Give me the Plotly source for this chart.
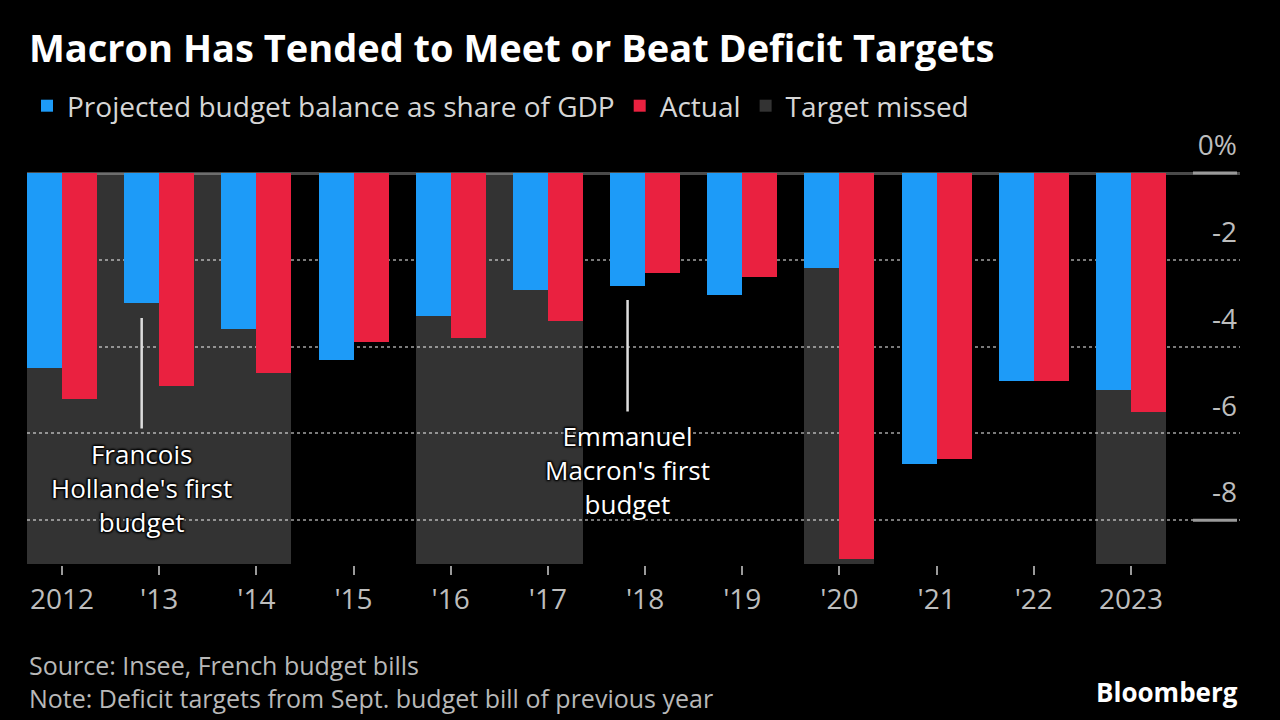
import plotly.graph_objects as go

# ---------------- data ----------------
years = list(range(2012, 2024))
tick_labels = ["2012", "'13", "'14", "'15", "'16", "'17", "'18", "'19", "'20", "'21", "'22", "2023"]
projected = [-4.5, -3.0, -3.6, -4.3, -3.3, -2.7, -2.6, -2.8, -2.2, -6.7, -4.8, -5.0]
actual = [-5.2, -4.9, -4.6, -3.9, -3.8, -3.4, -2.3, -2.4, -8.9, -6.6, -4.8, -5.5]
missed_years = [2012, 2013, 2014, 2016, 2017, 2020, 2023]
missed_floor = -9.0
y_tick_vals = [0, -2, -4, -6, -8]
y_tick_text = ["0%", "-2", "-4", "-6", "-8"]
hollande_text = "Francois<br>Hollande's first<br>budget"
macron_text = "Emmanuel<br>Macron's first<br>budget"
footer_text = "Source: Insee, French budget bills<br>Note: Deficit targets from Sept. budget bill of previous year"

# ---------------- style ----------------
FONT = "Open Sans"
BLUE = "#1d9bf8"
RED = "#ea2140"
GREY = "rgba(255,255,255,0.2)"
BG = "#000000"
BAR_W = 0.36

# contiguous runs of missed years -> shaded blocks
runs = []
for yr in missed_years:
    if runs and yr == runs[-1][-1] + 1:
        runs[-1].append(yr)
    else:
        runs.append([yr])
run_centers = [(r[0] + r[-1]) / 2 for r in runs]
run_widths = [(r[-1] - r[0]) + 2 * BAR_W for r in runs]

fig = go.Figure()
fig.add_trace(go.Bar(
    x=run_centers, y=[missed_floor] * len(runs), width=run_widths,
    marker=dict(color=GREY, line=dict(width=0)), name="Target missed",
    legendrank=3, hoverinfo="skip"))
fig.add_trace(go.Bar(
    x=years, y=projected, width=BAR_W, offset=-BAR_W,
    marker=dict(color=BLUE, line=dict(width=0)),
    name="Projected budget balance as share of GDP", legendrank=1))
fig.add_trace(go.Bar(
    x=years, y=actual, width=BAR_W, offset=0,
    marker=dict(color=RED, line=dict(width=0)),
    name="Actual", legendrank=2))

# layout geometry (pixels)
L, R, T, B = 27, 40, 125, 155
H = 720 - T - B
PX_PER_UNIT = 43.4
ZERO_PX = 173


def py(p):
    return (720 - B - p) / H


def vy(p):
    return -(p - ZERO_PX) / PX_PER_UNIT


anns = [
    dict(text="<b>Macron Has Tended to Meet or Beat Deficit Targets</b>",
         x=0.0, y=py(47), xanchor="left", yanchor="middle",
         font=dict(size=38, color="#ffffff", family=FONT)),
    dict(text=footer_text, align="left",
         x=0, y=py(681), xanchor="left", yanchor="middle",
         font=dict(size=25, color="#b8b8b8", family=FONT)),
    dict(text="<b>Bloomberg</b>",
         x=1.0, y=py(692), xanchor="right", yanchor="middle",
         font=dict(size=26, color="#ffffff", family=FONT)),
]
for a in anns:
    a.update(xref="paper", yref="paper", showarrow=False)

SHADOW = "1px 1px 2px #000, -1px -1px 2px #000, 1px -1px 2px #000, -1px 1px 2px #000"
callouts = [
    dict(x=2013 - BAR_W / 2, tip=318, tail=430, text=hollande_text, center=488),
    dict(x=2018 - BAR_W / 2, tip=300, tail=413, text=macron_text, center=470),
]
for c in callouts:
    anns.append(dict(
        x=c["x"], y=vy(c["tip"]), xref="x", yref="y", ax=c["x"], ay=vy(c["tail"]),
        axref="x", ayref="y", text="", showarrow=True, arrowhead=0,
        arrowwidth=2.5, arrowcolor="#dddddd"))
    anns.append(dict(
        x=c["x"], y=vy(c["center"]), xref="x", yref="y", text=c["text"], showarrow=False,
        xanchor="center", yanchor="middle", align="center",
        font=dict(size=26, color="#ffffff", family=FONT, shadow=SHADOW)))

shapes = []
seg_x0 = (1193 - L) / (1280 - L - R)
seg_x1 = (1237 - L) / (1280 - L - R)
for v in [0, -8]:
    shapes.append(dict(type="line", xref="paper", yref="y", x0=seg_x0, x1=seg_x1,
                       y0=v, y1=v, line=dict(color="#9a9a9a", width=3), layer="above"))

fig.update_layout(
    width=1280, height=720,
    paper_bgcolor=BG, plot_bgcolor=BG,
    margin=dict(l=L, r=R, t=T, b=B, autoexpand=False),
    barmode="overlay",
    bargap=0,
    font=dict(family=FONT, color="#cfcfcf"),
    showlegend=True,
    legend=dict(orientation="h", x=0, xanchor="left", yref="paper",
                y=py(81), yanchor="top",
                font=dict(size=28, color="#d6d6d6", family=FONT),
                bgcolor="rgba(0,0,0,0)", itemwidth=30, traceorder="normal"),
    xaxis=dict(range=[2012 - BAR_W, 2012 - BAR_W + (1280 - L - R) / 97.18],
               tickvals=years, ticktext=tick_labels,
               ticks="outside", ticklen=9, tickwidth=2, tickcolor="#9a9a9a",
               tickfont=dict(size=28, color="#bdbdbd", family=FONT),
               showgrid=False, zeroline=False, showline=False, fixedrange=True),
    yaxis=dict(range=[vy(720 - B), vy(T)], side="right",
               tickvals=y_tick_vals, ticktext=y_tick_text,
               ticklabelposition="inside top", ticklabelshift=-8,
               tickfont=dict(size=28, color="#bdbdbd", family=FONT),
               showgrid=True, gridcolor="#7a7a7a", griddash="dot", gridwidth=2,
               zeroline=True, zerolinecolor="#4a4a4a", zerolinewidth=3,
               showline=False, ticks="", fixedrange=True),
    annotations=anns,
    shapes=shapes,
)

fig.write_html("out.html", config={"displayModeBar": False},
               post_script="document.body.style.margin='0';")
